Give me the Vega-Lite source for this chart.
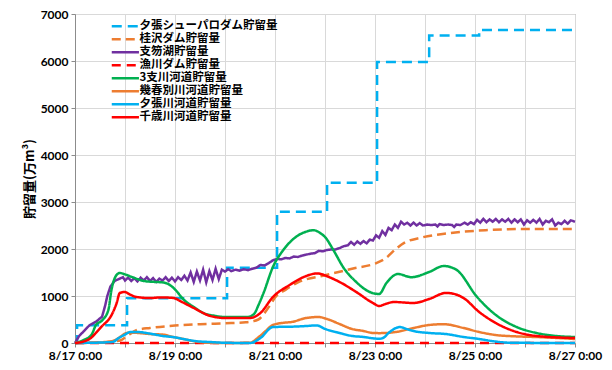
{
  "$schema": "https://vega.github.io/schema/vega-lite/v6.json",
  "width": 500,
  "height": 329,
  "autosize": {"type": "none"},
  "padding": {"left": 75, "top": 14, "right": 37, "bottom": 27},
  "background": "white",
  "datasets": {
    "dam": [
      {"s": "夕張シューパロダム貯留量", "h": 0, "v": 0},
      {"s": "夕張シューパロダム貯留量", "h": 1, "v": 380},
      {"s": "夕張シューパロダム貯留量", "h": 25, "v": 950},
      {"s": "夕張シューパロダム貯留量", "h": 73, "v": 1600},
      {"s": "夕張シューパロダム貯留量", "h": 97, "v": 2790},
      {"s": "夕張シューパロダム貯留量", "h": 121, "v": 3410},
      {"s": "夕張シューパロダム貯留量", "h": 145, "v": 5980},
      {"s": "夕張シューパロダム貯留量", "h": 170, "v": 6540},
      {"s": "夕張シューパロダム貯留量", "h": 194, "v": 6660},
      {"s": "夕張シューパロダム貯留量", "h": 240, "v": 6660}
    ],
    "lake": [
      {"s": "支笏湖貯留量", "h": 0, "v": 0},
      {"s": "支笏湖貯留量", "h": 2, "v": 150},
      {"s": "支笏湖貯留量", "h": 4, "v": 240},
      {"s": "支笏湖貯留量", "h": 7, "v": 380},
      {"s": "支笏湖貯留量", "h": 10, "v": 450},
      {"s": "支笏湖貯留量", "h": 13, "v": 560},
      {"s": "支笏湖貯留量", "h": 14.5, "v": 800},
      {"s": "支笏湖貯留量", "h": 15.5, "v": 1000},
      {"s": "支笏湖貯留量", "h": 17, "v": 1200},
      {"s": "支笏湖貯留量", "h": 19, "v": 1320},
      {"s": "支笏湖貯留量", "h": 21, "v": 1360},
      {"s": "支笏湖貯留量", "h": 23, "v": 1400},
      {"s": "支笏湖貯留量", "h": 24, "v": 1330},
      {"s": "支笏湖貯留量", "h": 25.5, "v": 1390},
      {"s": "支笏湖貯留量", "h": 27, "v": 1320},
      {"s": "支笏湖貯留量", "h": 28.5, "v": 1380},
      {"s": "支笏湖貯留量", "h": 30, "v": 1310},
      {"s": "支笏湖貯留量", "h": 31.5, "v": 1390},
      {"s": "支笏湖貯留量", "h": 33, "v": 1330},
      {"s": "支笏湖貯留量", "h": 34.5, "v": 1400},
      {"s": "支笏湖貯留量", "h": 36, "v": 1320},
      {"s": "支笏湖貯留量", "h": 37.5, "v": 1380},
      {"s": "支笏湖貯留量", "h": 39, "v": 1300},
      {"s": "支笏湖貯留量", "h": 40.5, "v": 1370},
      {"s": "支笏湖貯留量", "h": 42, "v": 1330},
      {"s": "支笏湖貯留量", "h": 43.5, "v": 1400},
      {"s": "支笏湖貯留量", "h": 45, "v": 1320},
      {"s": "支笏湖貯留量", "h": 46.5, "v": 1390},
      {"s": "支笏湖貯留量", "h": 48, "v": 1310},
      {"s": "支笏湖貯留量", "h": 49.5, "v": 1400},
      {"s": "支笏湖貯留量", "h": 51, "v": 1340},
      {"s": "支笏湖貯留量", "h": 52.5, "v": 1430},
      {"s": "支笏湖貯留量", "h": 54, "v": 1330},
      {"s": "支笏湖貯留量", "h": 55.5, "v": 1500},
      {"s": "支笏湖貯留量", "h": 57, "v": 1300},
      {"s": "支笏湖貯留量", "h": 58.5, "v": 1520},
      {"s": "支笏湖貯留量", "h": 60, "v": 1330},
      {"s": "支笏湖貯留量", "h": 61.5, "v": 1560},
      {"s": "支笏湖貯留量", "h": 63, "v": 1290},
      {"s": "支笏湖貯留量", "h": 64.5, "v": 1530},
      {"s": "支笏湖貯留量", "h": 66, "v": 1340},
      {"s": "支笏湖貯留量", "h": 67.5, "v": 1580},
      {"s": "支笏湖貯留量", "h": 69, "v": 1360},
      {"s": "支笏湖貯留量", "h": 70.5, "v": 1560},
      {"s": "支笏湖貯留量", "h": 72, "v": 1520},
      {"s": "支笏湖貯留量", "h": 73.5, "v": 1570},
      {"s": "支笏湖貯留量", "h": 75, "v": 1530},
      {"s": "支笏湖貯留量", "h": 77, "v": 1560},
      {"s": "支笏湖貯留量", "h": 79, "v": 1540},
      {"s": "支笏湖貯留量", "h": 81, "v": 1570},
      {"s": "支笏湖貯留量", "h": 83, "v": 1550},
      {"s": "支笏湖貯留量", "h": 85, "v": 1580},
      {"s": "支笏湖貯留量", "h": 87, "v": 1600},
      {"s": "支笏湖貯留量", "h": 89, "v": 1660},
      {"s": "支笏湖貯留量", "h": 91, "v": 1650},
      {"s": "支笏湖貯留量", "h": 93, "v": 1700},
      {"s": "支笏湖貯留量", "h": 95, "v": 1760},
      {"s": "支笏湖貯留量", "h": 97, "v": 1790},
      {"s": "支笏湖貯留量", "h": 99, "v": 1780},
      {"s": "支笏湖貯留量", "h": 101, "v": 1810},
      {"s": "支笏湖貯留量", "h": 103, "v": 1800},
      {"s": "支笏湖貯留量", "h": 105, "v": 1840},
      {"s": "支笏湖貯留量", "h": 107, "v": 1830},
      {"s": "支笏湖貯留量", "h": 109, "v": 1860},
      {"s": "支笏湖貯留量", "h": 111, "v": 1880},
      {"s": "支笏湖貯留量", "h": 113, "v": 1900},
      {"s": "支笏湖貯留量", "h": 115, "v": 1910},
      {"s": "支笏湖貯留量", "h": 117, "v": 1960},
      {"s": "支笏湖貯留量", "h": 119, "v": 1950},
      {"s": "支笏湖貯留量", "h": 121, "v": 1980},
      {"s": "支笏湖貯留量", "h": 123, "v": 1990},
      {"s": "支笏湖貯留量", "h": 125, "v": 1990},
      {"s": "支笏湖貯留量", "h": 127, "v": 2020},
      {"s": "支笏湖貯留量", "h": 129, "v": 2060},
      {"s": "支笏湖貯留量", "h": 131, "v": 2080},
      {"s": "支笏湖貯留量", "h": 132.5, "v": 2150},
      {"s": "支笏湖貯留量", "h": 134, "v": 2090},
      {"s": "支笏湖貯留量", "h": 135.5, "v": 2160},
      {"s": "支笏湖貯留量", "h": 137, "v": 2110},
      {"s": "支笏湖貯留量", "h": 138.5, "v": 2170},
      {"s": "支笏湖貯留量", "h": 140, "v": 2120},
      {"s": "支笏湖貯留量", "h": 141.5, "v": 2200},
      {"s": "支笏湖貯留量", "h": 143, "v": 2180},
      {"s": "支笏湖貯留量", "h": 144.5, "v": 2290},
      {"s": "支笏湖貯留量", "h": 146, "v": 2240},
      {"s": "支笏湖貯留量", "h": 147.5, "v": 2380},
      {"s": "支笏湖貯留量", "h": 149, "v": 2300},
      {"s": "支笏湖貯留量", "h": 150.5, "v": 2450},
      {"s": "支笏湖貯留量", "h": 152, "v": 2400},
      {"s": "支笏湖貯留量", "h": 153.5, "v": 2520},
      {"s": "支笏湖貯留量", "h": 155, "v": 2450},
      {"s": "支笏湖貯留量", "h": 156.5, "v": 2580},
      {"s": "支笏湖貯留量", "h": 158, "v": 2520},
      {"s": "支笏湖貯留量", "h": 159.5, "v": 2560},
      {"s": "支笏湖貯留量", "h": 161, "v": 2500},
      {"s": "支笏湖貯留量", "h": 162.5, "v": 2560},
      {"s": "支笏湖貯留量", "h": 164, "v": 2500},
      {"s": "支笏湖貯留量", "h": 165.5, "v": 2550},
      {"s": "支笏湖貯留量", "h": 167, "v": 2500},
      {"s": "支笏湖貯留量", "h": 169, "v": 2520},
      {"s": "支笏湖貯留量", "h": 171, "v": 2510},
      {"s": "支笏湖貯留量", "h": 173, "v": 2520},
      {"s": "支笏湖貯留量", "h": 174, "v": 2480},
      {"s": "支笏湖貯留量", "h": 175, "v": 2530},
      {"s": "支笏湖貯留量", "h": 177, "v": 2510},
      {"s": "支笏湖貯留量", "h": 179, "v": 2520},
      {"s": "支笏湖貯留量", "h": 181, "v": 2510},
      {"s": "支笏湖貯留量", "h": 182, "v": 2470},
      {"s": "支笏湖貯留量", "h": 183, "v": 2520},
      {"s": "支笏湖貯留量", "h": 185, "v": 2510},
      {"s": "支笏湖貯留量", "h": 187, "v": 2560},
      {"s": "支笏湖貯留量", "h": 188.5, "v": 2520},
      {"s": "支笏湖貯留量", "h": 190, "v": 2570},
      {"s": "支笏湖貯留量", "h": 191.5, "v": 2530},
      {"s": "支笏湖貯留量", "h": 193, "v": 2620},
      {"s": "支笏湖貯留量", "h": 194.5, "v": 2560},
      {"s": "支笏湖貯留量", "h": 196, "v": 2640},
      {"s": "支笏湖貯留量", "h": 197.5, "v": 2570},
      {"s": "支笏湖貯留量", "h": 199, "v": 2630},
      {"s": "支笏湖貯留量", "h": 200.5, "v": 2580},
      {"s": "支笏湖貯留量", "h": 202, "v": 2640},
      {"s": "支笏湖貯留量", "h": 203.5, "v": 2570},
      {"s": "支笏湖貯留量", "h": 205, "v": 2630},
      {"s": "支笏湖貯留量", "h": 206.5, "v": 2580},
      {"s": "支笏湖貯留量", "h": 208, "v": 2640},
      {"s": "支笏湖貯留量", "h": 209.5, "v": 2560},
      {"s": "支笏湖貯留量", "h": 211, "v": 2630},
      {"s": "支笏湖貯留量", "h": 212.5, "v": 2570},
      {"s": "支笏湖貯留量", "h": 214, "v": 2630},
      {"s": "支笏湖貯留量", "h": 215.5, "v": 2520},
      {"s": "支笏湖貯留量", "h": 217, "v": 2610},
      {"s": "支笏湖貯留量", "h": 218.5, "v": 2560},
      {"s": "支笏湖貯留量", "h": 220, "v": 2620},
      {"s": "支笏湖貯留量", "h": 221.5, "v": 2560},
      {"s": "支笏湖貯留量", "h": 223, "v": 2640},
      {"s": "支笏湖貯留量", "h": 224.5, "v": 2520},
      {"s": "支笏湖貯留量", "h": 226, "v": 2600},
      {"s": "支笏湖貯留量", "h": 227.5, "v": 2570},
      {"s": "支笏湖貯留量", "h": 229, "v": 2630},
      {"s": "支笏湖貯留量", "h": 230.5, "v": 2500},
      {"s": "支笏湖貯留量", "h": 232, "v": 2560},
      {"s": "支笏湖貯留量", "h": 233.5, "v": 2530},
      {"s": "支笏湖貯留量", "h": 235, "v": 2600},
      {"s": "支笏湖貯留量", "h": 236.5, "v": 2540},
      {"s": "支笏湖貯留量", "h": 238, "v": 2610},
      {"s": "支笏湖貯留量", "h": 240, "v": 2580}
    ],
    "smooth": [
      {"s": "桂沢ダム貯留量", "h": 0, "v": 0},
      {"s": "桂沢ダム貯留量", "h": 14, "v": 20},
      {"s": "桂沢ダム貯留量", "h": 22, "v": 60},
      {"s": "桂沢ダム貯留量", "h": 25, "v": 150},
      {"s": "桂沢ダム貯留量", "h": 30, "v": 280},
      {"s": "桂沢ダム貯留量", "h": 36, "v": 320},
      {"s": "桂沢ダム貯留量", "h": 48, "v": 370},
      {"s": "桂沢ダム貯留量", "h": 60, "v": 400},
      {"s": "桂沢ダム貯留量", "h": 72, "v": 420},
      {"s": "桂沢ダム貯留量", "h": 82, "v": 440},
      {"s": "桂沢ダム貯留量", "h": 88, "v": 500},
      {"s": "桂沢ダム貯留量", "h": 91, "v": 640},
      {"s": "桂沢ダム貯留量", "h": 94, "v": 830},
      {"s": "桂沢ダム貯留量", "h": 96, "v": 970},
      {"s": "桂沢ダム貯留量", "h": 101, "v": 1130},
      {"s": "桂沢ダム貯留量", "h": 107, "v": 1290},
      {"s": "桂沢ダム貯留量", "h": 120, "v": 1440},
      {"s": "桂沢ダム貯留量", "h": 134, "v": 1590},
      {"s": "桂沢ダム貯留量", "h": 144, "v": 1690},
      {"s": "桂沢ダム貯留量", "h": 149, "v": 1800},
      {"s": "桂沢ダム貯留量", "h": 154, "v": 2000},
      {"s": "桂沢ダム貯留量", "h": 158, "v": 2130},
      {"s": "桂沢ダム貯留量", "h": 166, "v": 2240},
      {"s": "桂沢ダム貯留量", "h": 180, "v": 2340},
      {"s": "桂沢ダム貯留量", "h": 197, "v": 2400},
      {"s": "桂沢ダム貯留量", "h": 216, "v": 2425},
      {"s": "桂沢ダム貯留量", "h": 240, "v": 2425},
      {"s": "漁川ダム貯留量", "h": 0, "v": 0},
      {"s": "漁川ダム貯留量", "h": 240, "v": 0},
      {"s": "3支川河道貯留量", "h": 0, "v": 0},
      {"s": "3支川河道貯留量", "h": 4, "v": 60},
      {"s": "3支川河道貯留量", "h": 8, "v": 180},
      {"s": "3支川河道貯留量", "h": 10, "v": 380},
      {"s": "3支川河道貯留量", "h": 13, "v": 480},
      {"s": "3支川河道貯留量", "h": 16, "v": 700},
      {"s": "3支川河道貯留量", "h": 17.5, "v": 1130},
      {"s": "3支川河道貯留量", "h": 20, "v": 1450},
      {"s": "3支川河道貯留量", "h": 21.5, "v": 1490},
      {"s": "3支川河道貯留量", "h": 24, "v": 1460},
      {"s": "3支川河道貯留量", "h": 27, "v": 1410},
      {"s": "3支川河道貯留量", "h": 30, "v": 1360},
      {"s": "3支川河道貯留量", "h": 33, "v": 1320},
      {"s": "3支川河道貯留量", "h": 38, "v": 1300},
      {"s": "3支川河道貯留量", "h": 42, "v": 1290},
      {"s": "3支川河道貯留量", "h": 46, "v": 1220},
      {"s": "3支川河道貯留量", "h": 48, "v": 1140},
      {"s": "3支川河道貯留量", "h": 52, "v": 930},
      {"s": "3支川河道貯留量", "h": 57, "v": 766},
      {"s": "3支川河道貯留量", "h": 62, "v": 630},
      {"s": "3支川河道貯留量", "h": 67, "v": 580},
      {"s": "3支川河道貯留量", "h": 72, "v": 553},
      {"s": "3支川河道貯留量", "h": 78, "v": 553},
      {"s": "3支川河道貯留量", "h": 83, "v": 555},
      {"s": "3支川河道貯留量", "h": 86, "v": 620},
      {"s": "3支川河道貯留量", "h": 88, "v": 800},
      {"s": "3支川河道貯留量", "h": 90.5, "v": 1064},
      {"s": "3支川河道貯留量", "h": 95, "v": 1617},
      {"s": "3支川河道貯留量", "h": 100, "v": 1979},
      {"s": "3支川河道貯留量", "h": 106, "v": 2255},
      {"s": "3支川河道貯留量", "h": 111, "v": 2370},
      {"s": "3支川河道貯留量", "h": 114.5, "v": 2400},
      {"s": "3支川河道貯留量", "h": 118, "v": 2330},
      {"s": "3支川河道貯留量", "h": 120, "v": 2255},
      {"s": "3支川河道貯留量", "h": 124, "v": 1979},
      {"s": "3支川河道貯留量", "h": 129, "v": 1596},
      {"s": "3支川河道貯留量", "h": 135, "v": 1298},
      {"s": "3支川河道貯留量", "h": 140, "v": 1120},
      {"s": "3支川河道貯留量", "h": 144, "v": 1050},
      {"s": "3支川河道貯留量", "h": 146, "v": 1043},
      {"s": "3支川河道貯留量", "h": 149.5, "v": 1277},
      {"s": "3支川河道貯留量", "h": 155, "v": 1468},
      {"s": "3支川河道貯留量", "h": 161.5, "v": 1400},
      {"s": "3支川河道貯留量", "h": 170, "v": 1511},
      {"s": "3支川河道貯留量", "h": 177, "v": 1638},
      {"s": "3支川河道貯留量", "h": 183, "v": 1560},
      {"s": "3支川河道貯留量", "h": 193, "v": 979},
      {"s": "3支川河道貯留量", "h": 202, "v": 596},
      {"s": "3支川河道貯留量", "h": 212, "v": 340},
      {"s": "3支川河道貯留量", "h": 221.5, "v": 213},
      {"s": "3支川河道貯留量", "h": 231, "v": 149},
      {"s": "3支川河道貯留量", "h": 240, "v": 128},
      {"s": "幾春別川河道貯留量", "h": 0, "v": 0},
      {"s": "幾春別川河道貯留量", "h": 12, "v": 10},
      {"s": "幾春別川河道貯留量", "h": 17, "v": 30},
      {"s": "幾春別川河道貯留量", "h": 20, "v": 80},
      {"s": "幾春別川河道貯留量", "h": 22, "v": 140},
      {"s": "幾春別川河道貯留量", "h": 24, "v": 200},
      {"s": "幾春別川河道貯留量", "h": 26, "v": 220},
      {"s": "幾春別川河道貯留量", "h": 30, "v": 215},
      {"s": "幾春別川河道貯留量", "h": 36, "v": 190},
      {"s": "幾春別川河道貯留量", "h": 42, "v": 180},
      {"s": "幾春別川河道貯留量", "h": 46, "v": 140},
      {"s": "幾春別川河道貯留量", "h": 52, "v": 85},
      {"s": "幾春別川河道貯留量", "h": 58, "v": 30},
      {"s": "幾春別川河道貯留量", "h": 64, "v": 5},
      {"s": "幾春別川河道貯留量", "h": 72, "v": 0},
      {"s": "幾春別川河道貯留量", "h": 84, "v": 5},
      {"s": "幾春別川河道貯留量", "h": 88, "v": 120},
      {"s": "幾春別川河道貯留量", "h": 91, "v": 234},
      {"s": "幾春別川河道貯留量", "h": 95, "v": 383},
      {"s": "幾春別川河道貯留量", "h": 100, "v": 430},
      {"s": "幾春別川河道貯留量", "h": 104, "v": 447},
      {"s": "幾春別川河道貯留量", "h": 111, "v": 532},
      {"s": "幾春別川河道貯留量", "h": 117, "v": 553},
      {"s": "幾春別川河道貯留量", "h": 121, "v": 510},
      {"s": "幾春別川河道貯留量", "h": 127, "v": 404},
      {"s": "幾春別川河道貯留量", "h": 133, "v": 298},
      {"s": "幾春別川河道貯留量", "h": 138.5, "v": 255},
      {"s": "幾春別川河道貯留量", "h": 143, "v": 213},
      {"s": "幾春別川河道貯留量", "h": 146, "v": 210},
      {"s": "幾春別川河道貯留量", "h": 154, "v": 234},
      {"s": "幾春別川河道貯留量", "h": 162.5, "v": 319},
      {"s": "幾春別川河道貯留量", "h": 170, "v": 383},
      {"s": "幾春別川河道貯留量", "h": 177, "v": 400},
      {"s": "幾春別川河道貯留量", "h": 186.5, "v": 319},
      {"s": "幾春別川河道貯留量", "h": 194, "v": 234},
      {"s": "幾春別川河道貯留量", "h": 202, "v": 170},
      {"s": "幾春別川河道貯留量", "h": 212, "v": 140},
      {"s": "幾春別川河道貯留量", "h": 221, "v": 128},
      {"s": "幾春別川河道貯留量", "h": 240, "v": 85},
      {"s": "夕張川河道貯留量", "h": 0, "v": 0},
      {"s": "夕張川河道貯留量", "h": 18, "v": 20},
      {"s": "夕張川河道貯留量", "h": 21, "v": 106},
      {"s": "夕張川河道貯留量", "h": 24, "v": 180},
      {"s": "夕張川河道貯留量", "h": 26.5, "v": 234},
      {"s": "夕張川河道貯留量", "h": 30, "v": 234},
      {"s": "夕張川河道貯留量", "h": 36, "v": 200},
      {"s": "夕張川河道貯留量", "h": 42, "v": 150},
      {"s": "夕張川河道貯留量", "h": 48, "v": 120},
      {"s": "夕張川河道貯留量", "h": 52, "v": 85},
      {"s": "夕張川河道貯留量", "h": 58, "v": 40},
      {"s": "夕張川河道貯留量", "h": 65, "v": 20},
      {"s": "夕張川河道貯留量", "h": 72, "v": 5},
      {"s": "夕張川河道貯留量", "h": 84, "v": 0},
      {"s": "夕張川河道貯留量", "h": 89, "v": 106},
      {"s": "夕張川河道貯留量", "h": 95, "v": 340},
      {"s": "夕張川河道貯留量", "h": 100, "v": 345},
      {"s": "夕張川河道貯留量", "h": 106, "v": 350},
      {"s": "夕張川河道貯留量", "h": 111, "v": 362},
      {"s": "夕張川河道貯留量", "h": 116, "v": 375},
      {"s": "夕張川河道貯留量", "h": 120, "v": 300},
      {"s": "夕張川河道貯留量", "h": 127, "v": 213},
      {"s": "夕張川河道貯留量", "h": 133, "v": 150},
      {"s": "夕張川河道貯留量", "h": 138.5, "v": 128},
      {"s": "夕張川河道貯留量", "h": 143, "v": 100},
      {"s": "夕張川河道貯留量", "h": 146, "v": 90},
      {"s": "夕張川河道貯留量", "h": 148, "v": 110},
      {"s": "夕張川河道貯留量", "h": 150.5, "v": 213},
      {"s": "夕張川河道貯留量", "h": 156, "v": 340},
      {"s": "夕張川河道貯留量", "h": 159, "v": 300},
      {"s": "夕張川河道貯留量", "h": 162.5, "v": 255},
      {"s": "夕張川河道貯留量", "h": 170, "v": 213},
      {"s": "夕張川河道貯留量", "h": 178, "v": 191},
      {"s": "夕張川河道貯留量", "h": 186.5, "v": 128},
      {"s": "夕張川河道貯留量", "h": 194, "v": 85},
      {"s": "夕張川河道貯留量", "h": 202, "v": 30},
      {"s": "夕張川河道貯留量", "h": 210, "v": 5},
      {"s": "夕張川河道貯留量", "h": 240, "v": 0},
      {"s": "千歳川河道貯留量", "h": 0, "v": 0},
      {"s": "千歳川河道貯留量", "h": 4, "v": 30},
      {"s": "千歳川河道貯留量", "h": 8, "v": 120},
      {"s": "千歳川河道貯留量", "h": 10, "v": 213},
      {"s": "千歳川河道貯留量", "h": 13.5, "v": 383},
      {"s": "千歳川河道貯留量", "h": 16, "v": 490},
      {"s": "千歳川河道貯留量", "h": 17, "v": 553},
      {"s": "千歳川河道貯留量", "h": 20, "v": 851},
      {"s": "千歳川河道貯留量", "h": 21.5, "v": 1064},
      {"s": "千歳川河道貯留量", "h": 24, "v": 1085},
      {"s": "千歳川河道貯留量", "h": 26, "v": 1040},
      {"s": "千歳川河道貯留量", "h": 29.5, "v": 979},
      {"s": "千歳川河道貯留量", "h": 36, "v": 957},
      {"s": "千歳川河道貯留量", "h": 41, "v": 970},
      {"s": "千歳川河道貯留量", "h": 47, "v": 960},
      {"s": "千歳川河道貯留量", "h": 51, "v": 880},
      {"s": "千歳川河道貯留量", "h": 57, "v": 745},
      {"s": "千歳川河道貯留量", "h": 65, "v": 574},
      {"s": "千歳川河道貯留量", "h": 72, "v": 532},
      {"s": "千歳川河道貯留量", "h": 84, "v": 532},
      {"s": "千歳川河道貯留量", "h": 89, "v": 638},
      {"s": "千歳川河道貯留量", "h": 95, "v": 979},
      {"s": "千歳川河道貯留量", "h": 103, "v": 1234},
      {"s": "千歳川河道貯留量", "h": 111, "v": 1426},
      {"s": "千歳川河道貯留量", "h": 116, "v": 1480},
      {"s": "千歳川河道貯留量", "h": 118, "v": 1470},
      {"s": "千歳川河道貯留量", "h": 121, "v": 1420},
      {"s": "千歳川河道貯留量", "h": 127, "v": 1298},
      {"s": "千歳川河道貯留量", "h": 135, "v": 1085},
      {"s": "千歳川河道貯留量", "h": 143, "v": 851},
      {"s": "千歳川河道貯留量", "h": 146, "v": 787},
      {"s": "千歳川河道貯留量", "h": 149, "v": 830},
      {"s": "千歳川河道貯留量", "h": 153, "v": 872},
      {"s": "千歳川河道貯留量", "h": 162.5, "v": 851},
      {"s": "千歳川河道貯留量", "h": 170, "v": 936},
      {"s": "千歳川河道貯留量", "h": 178, "v": 1064},
      {"s": "千歳川河道貯留量", "h": 180, "v": 1060},
      {"s": "千歳川河道貯留量", "h": 186.5, "v": 957},
      {"s": "千歳川河道貯留量", "h": 194, "v": 660},
      {"s": "千歳川河道貯留量", "h": 202, "v": 425},
      {"s": "千歳川河道貯留量", "h": 212, "v": 234},
      {"s": "千歳川河道貯留量", "h": 221.5, "v": 149},
      {"s": "千歳川河道貯留量", "h": 240, "v": 106}
    ]
  },
  "encoding": {
    "x": {
      "field": "h",
      "type": "quantitative",
      "scale": {"domain": [0, 240], "nice": false, "zero": false},
      "axis": {
        "title": null,
        "values": [0, 24, 48, 72, 96, 120, 144, 168, 192, 216, 240],
        "labelExpr": "datum.value % 48 == 0 ? '8/' + (17 + datum.value / 24) + ' 0:00' : ''",
        "tickSize": 4,
        "labelPadding": 3,
        "labelFlush": false,
        "labelOverlap": false
      }
    },
    "y": {
      "field": "v",
      "type": "quantitative",
      "scale": {"domain": [0, 7000], "nice": false},
      "axis": {
        "title": "貯留量(万m³)",
        "values": [0, 1000, 2000, 3000, 4000, 5000, 6000, 7000],
        "format": "d",
        "tickSize": 4,
        "labelPadding": 3,
        "titlePadding": 4,
        "titleFont": "Noto Sans CJK JP",
        "titleFontSize": 13,
        "titleFontWeight": "bold",
        "titleColor": "#000000"
      }
    },
    "color": {
      "field": "s",
      "type": "nominal",
      "scale": {
        "domain": ["夕張シューパロダム貯留量", "桂沢ダム貯留量", "支笏湖貯留量", "漁川ダム貯留量", "3支川河道貯留量", "幾春別川河道貯留量", "夕張川河道貯留量", "千歳川河道貯留量"],
        "range": ["#00b0f0", "#ed7d31", "#7030a0", "#ff0000", "#00b050", "#ed7d31", "#00b0f0", "#ff0000"]
      },
      "legend": {
        "title": null,
        "orient": "none",
        "legendX": 44.6,
        "legendY": 6.5,
        "padding": 0,
        "symbolType": "M-3.4,0H3.4",
        "symbolSize": 64,
        "symbolStrokeWidth": 2.5,
        "labelFont": "Noto Sans CJK JP",
        "labelFontSize": 11.5,
        "labelFontWeight": "bold",
        "labelColor": "#000000",
        "labelOffset": 8.4,
        "labelLimit": 300,
        "rowPadding": 0
      }
    },
    "strokeDash": {
      "field": "s",
      "type": "nominal",
      "scale": {
        "domain": ["夕張シューパロダム貯留量", "桂沢ダム貯留量", "支笏湖貯留量", "漁川ダム貯留量", "3支川河道貯留量", "幾春別川河道貯留量", "夕張川河道貯留量", "千歳川河道貯留量"],
        "range": [[10, 6], [9, 5], [1, 0], [9, 6], [1, 0], [1, 0], [1, 0], [1, 0]]
      },
      "legend": {
        "title": null,
        "orient": "none",
        "legendX": 44.6,
        "legendY": 6.5,
        "padding": 0,
        "symbolType": "M-3.4,0H3.4",
        "symbolSize": 64,
        "symbolStrokeWidth": 2.5,
        "labelFont": "Noto Sans CJK JP",
        "labelFontSize": 11.5,
        "labelFontWeight": "bold",
        "labelColor": "#000000",
        "labelOffset": 8.4,
        "labelLimit": 300,
        "rowPadding": 0
      }
    }
  },
  "layer": [
    {
      "data": {"name": "dam"},
      "mark": {"type": "line", "interpolate": "step-after", "strokeWidth": 2.5}
    },
    {
      "data": {"name": "lake"},
      "mark": {"type": "line", "interpolate": "linear", "strokeWidth": 2.5}
    },
    {
      "data": {"name": "smooth"},
      "mark": {"type": "line", "interpolate": "monotone", "strokeWidth": 2.5}
    }
  ],
  "config": {
    "view": {"stroke": "#8c8c8c", "strokeWidth": 1},
    "axis": {
      "grid": true,
      "gridColor": "#d9d9d9",
      "gridWidth": 1,
      "domainColor": "#8c8c8c",
      "tickColor": "#8c8c8c",
      "labelFont": "Lato",
      "labelFontWeight": "bold",
      "labelFontSize": 12,
      "labelColor": "#000000"
    }
  }
}
